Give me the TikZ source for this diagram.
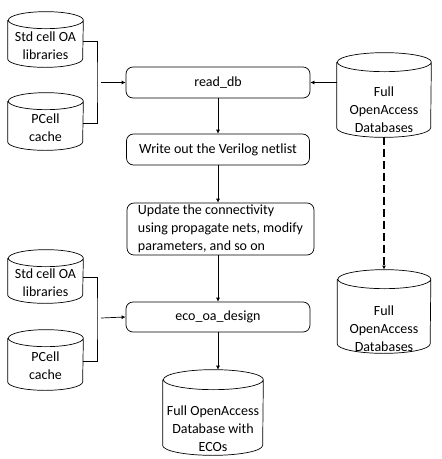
\documentclass[tikz,border=0pt]{standalone}
\usepackage{fontspec}
\setmainfont{Carlito}
\usepackage{tikz}
\usetikzlibrary{arrows.meta, positioning}

% text of a database, lowered below the top ellipse
\newcommand{\dbtext}[2]{\raisebox{-#1}[0pt][0pt]{\begin{tabular}{@{}c@{}}#2\end{tabular}}}

\tikzset{
    stepbox/.style={draw, rounded corners=7pt, inner sep=0pt, align=center},
    dbase/.style={inner sep=0pt},
    flow/.style={-{Latex[length=4pt, width=4pt]}},
}

\begin{document}
\begin{tikzpicture}[x=1pt, y=-1pt, line width=0.7pt, font=\fontsize{14}{18}\selectfont]
\useasboundingbox (0,0) rectangle (442,459);

% Libraries for read_db
\node[dbase, minimum width=75pt, minimum height=55pt] (stdA) at (45.5,39.5) {\dbtext{11pt}{Std cell OA\\libraries}};
\node[dbase, minimum width=75pt, minimum height=57pt] (pcellA) at (45.5,121.5) {\dbtext{10.5pt}{PCell\\cache}};

% Main flow
\node[stepbox, minimum width=184pt, minimum height=31pt] (readdb) at (218,82.5) {read\_db};
\node[stepbox, minimum width=183pt, minimum height=31pt] (verilog) at (218,149.5) {Write out the Verilog netlist};
\node[stepbox, minimum width=187pt, minimum height=52pt, align=left] (update) at (220.5,229) {Update the connectivity\\using propagate nets, modify\\parameters, and so on};
\node[stepbox, minimum width=184pt, minimum height=30pt] (eco) at (218,317) {eco\_oa\_design};

% Libraries for eco_oa_design
\node[dbase, minimum width=75pt, minimum height=53pt] (stdB) at (45.5,276.5) {\dbtext{10.5pt}{Std cell OA\\libraries}};
\node[dbase, minimum width=75pt, minimum height=60pt] (pcellB) at (45.5,360) {\dbtext{10pt}{PCell\\cache}};

% Databases
\node[dbase, minimum width=94pt, minimum height=84pt] (fullA) at (384,95) {\dbtext{19pt}{Full\\OpenAccess\\Databases}};
\node[dbase, minimum width=93pt, minimum height=83pt] (fullB) at (384,311.5) {\dbtext{22pt}{Full\\OpenAccess\\Databases}};
\node[dbase, minimum width=100pt, minimum height=85pt] (final) at (213,412.5) {\dbtext{20.5pt}{Full OpenAccess\\Database with\\ECOs}};

% Cylinder outlines
\foreach \n/\r/\h in {stdA/37.5/8.5, pcellA/37.5/8.5, stdB/37.5/8.5, pcellB/37.5/8.5, fullA/47/9.5, fullB/46.5/9.5, final/50/10} {
    \draw ([yshift=-\h pt]\n.north west) -- ([yshift=\h pt]\n.south west)
        arc[start angle=180, end angle=360, x radius=\r pt, y radius=\h pt]
        -- ([yshift=-\h pt]\n.north east)
        arc[start angle=0, end angle=360, x radius=\r pt, y radius=\h pt];
}

% Connectors
\coordinate (jA) at (101,82.5);
\coordinate (jB) at (101,318);
\draw ([yshift=-1.5pt]stdA.east) -| ([xshift=-4pt]jA) |- ([yshift=-1.5pt]pcellA.east);
\draw[flow] (jA) -- (readdb.west);
\draw ([yshift=-1pt]stdB.east) -| ([xshift=-4pt]jB) |- ([yshift=-1pt]pcellB.east);
\draw[flow] (jB) -- (eco.west);

\draw[flow] (fullA.west |- readdb.east) -- (readdb.east);
\draw[flow] (readdb) -- (verilog);
\draw[flow] (verilog.south) -- (verilog.south |- update.north);
\draw[flow] (update.south -| eco.north) -- (eco);
\draw[flow] (eco.south) -- (eco.south |- final.north);
\draw[flow, line width=1.6pt, dash pattern=on 8pt off 4pt] (fullA.south) -- (fullB.north);

\end{tikzpicture}
\end{document}
